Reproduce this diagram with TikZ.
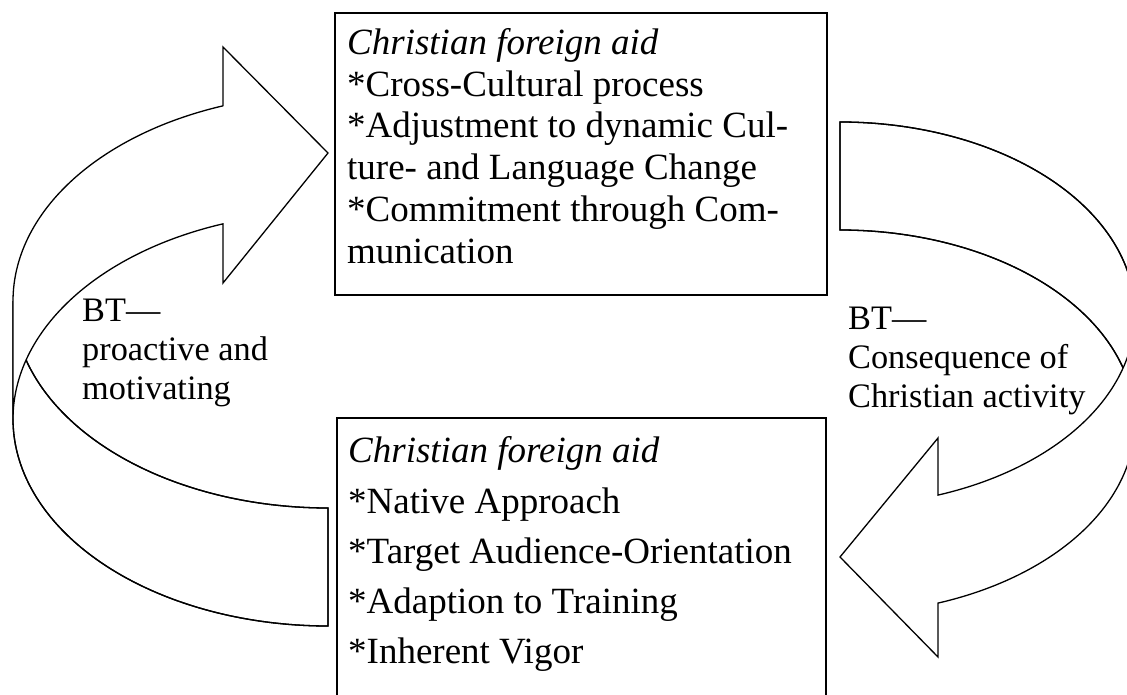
\documentclass[tikz,border=0pt]{standalone}
\usepackage{fontspec}
\setmainfont{Liberation Serif}
\begin{document}
\begin{tikzpicture}[x=1pt,y=-1pt,
  infobox/.style={draw=black, line width=2.2pt, fill=white, inner sep=0pt},
  boxtext/.style={anchor=base west, inner sep=0pt, font=\fontsize{37}{41.6}\selectfont},
  sidetext/.style={anchor=base west, inner sep=0pt, font=\fontsize{34.3}{39.4}\selectfont},
  bandarrow/.style={draw=black, line width=1.3pt, fill=white, line join=miter},
  arcplot/.style={samples=90, variable=\t}]
\useasboundingbox (0,0) rectangle (1127,695);
\clip (0,0) rectangle (1127,695);

% ---- left curved arrow (back band, then front band with head) ----
\path[bandarrow]
  plot[arcplot, domain=180:90] ({328+315*cos(\t)},{419+207*sin(\t)})
  -- plot[arcplot, domain=90:163.44] ({328+315*cos(\t)},{301+207*sin(\t)})
  -- plot[arcplot, domain=163.44:180] ({328+315*cos(\t)},{301+207*sin(\t)}) -- cycle;
\draw[bandarrow, fill=none]
  plot[arcplot, domain=180:90] ({328+315*cos(\t)},{419+207*sin(\t)})
  -- plot[arcplot, domain=90:163.44] ({328+315*cos(\t)},{301+207*sin(\t)});
\draw[bandarrow]
  plot[arcplot, domain=180:250.53] ({328+315*cos(\t)},{419+207*sin(\t)})
  -- (223,283) -- (328,153) -- (223,47) -- (223,106)
  -- plot[arcplot, domain=250.53:180] ({328+315*cos(\t)},{301+207*sin(\t)})
  -- cycle;

% ---- right curved arrow (back band, then front band with head) ----
\path[bandarrow]
  plot[arcplot, domain=0:-90] ({840+295*cos(\t)},{314+192*sin(\t)})
  -- plot[arcplot, domain=-90:-16.33] ({840+295*cos(\t)},{422+192*sin(\t)})
  -- plot[arcplot, domain=-16.33:0] ({840+295*cos(\t)},{422+192*sin(\t)}) -- cycle;
\draw[bandarrow, fill=none]
  plot[arcplot, domain=0:-90] ({840+295*cos(\t)},{314+192*sin(\t)})
  -- plot[arcplot, domain=-90:-16.33] ({840+295*cos(\t)},{422+192*sin(\t)});
\draw[bandarrow]
  plot[arcplot, domain=0:70.6] ({840+295*cos(\t)},{314+192*sin(\t)})
  -- (938,438) -- (840,557) -- (938,657)
  -- plot[arcplot, domain=70.6:0] ({840+295*cos(\t)},{422+192*sin(\t)})
  -- cycle;

% ---- the two boxes ----
\node[infobox, minimum width=492pt, minimum height=282pt] (upper) at (581,154) {};
\node[infobox, minimum width=489pt, minimum height=300pt] (lower) at (581.5,568) {};

% ---- upper box text ----
\node[boxtext] (u1) at (347,55)  {\textit{Christian foreign aid}};
\node[boxtext] (u2) at (347,97)  {*Cross-Cultural process};
\node[boxtext] (u3) at (347,138) {*Adjustment to dynamic Cul-};
\node[boxtext] (u4) at (347,180) {ture- and Language Change};
\node[boxtext] (u5) at (347,222) {*Commitment through Com-};
\node[boxtext] (u6) at (347,263) {munication};

% ---- lower box text ----
\node[boxtext] (l1) at (348,462) {\textit{Christian foreign aid}};
\node[boxtext] (l2) at (348,513) {*Native Approach};
\node[boxtext] (l3) at (348,563) {*Target Audience-Orientation};
\node[boxtext] (l4) at (348,613) {*Adaption to Training};
\node[boxtext] (l5) at (348,663) {*Inherent Vigor};

% ---- arrow captions ----
\node[sidetext] (a1) at (82,321) {BT—};
\node[sidetext] (a2) at (82,360) {proactive and};
\node[sidetext] (a3) at (82,399) {motivating};
\node[sidetext] (b1) at (848,329) {BT—};
\node[sidetext] (b2) at (848,368) {Consequence of};
\node[sidetext] (b3) at (848,407) {Christian activity};
\end{tikzpicture}
\end{document}
